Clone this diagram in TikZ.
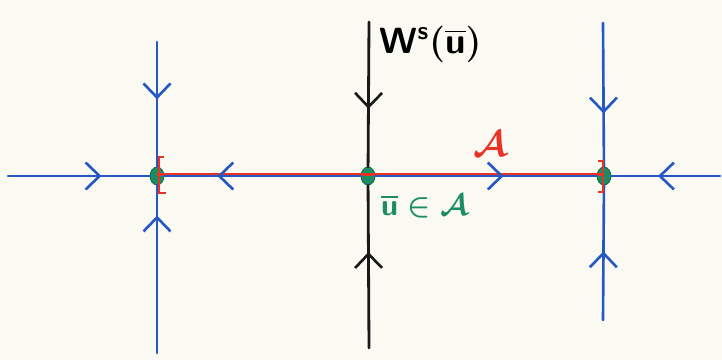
\documentclass[tikz,border=0pt]{standalone}
\usepackage{amsmath}
\usepackage{amssymb}
\usepackage{bm}
\usetikzlibrary{arrows.meta,decorations.markings,shapes.geometric}

\definecolor{penblue}{RGB}{38,88,196}
\definecolor{penred}{RGB}{232,52,38}
\definecolor{pengreen}{RGB}{28,140,100}
\definecolor{paper}{RGB}{251,250,242}

\tikzset{
  flow/.style={penblue,line width=1.5pt,line cap=round},
  stable/.style={black!90,line width=1.6pt,line cap=round},
  flowto/.style={postaction={decorate,decoration={markings,
      mark=at position #1 with {\arrow{Straight Barb[length=2.8mm,width=5.4mm,line width=1.5pt]}}}}},
  eq/.style={draw=pengreen!70!black,fill=pengreen,ellipse,inner sep=0pt,
      minimum width=0.28cm,minimum height=0.36cm},
}

\begin{document}
\begin{tikzpicture}[x=0.02cm,y=-0.02cm]
        \fill[paper] (0,0) rectangle (722,360);
        \useasboundingbox (0,0) rectangle (722,360);

        % equilibria
        \node[eq] (uL) at (157,176) {};
        \node[eq] (ubar) at (368,176) {};
        \node[eq] (uR) at (604,176) {};

        % free ends
        \coordinate (hL) at (8,176);
        \coordinate (hR) at (720,176);
        \coordinate (Ltop) at (157,42);
        \coordinate (Lbot) at (157,353);
        \coordinate (Btop) at (369,22);
        \coordinate (Bbot) at (369,348);
        \coordinate (Rtop) at (603,23);
        \coordinate (Rbot) at (603,320);

        % attractor
        \draw[penred,line width=1.5pt] ([yshift=1pt]uL.center) to ([yshift=1pt]uR.center);

        % horizontal flow
        \draw[flow,flowto=0.66] (hL) to (uL);
        \draw[flow,flowto=0.73] (ubar) to (uL);
        \draw[flow,flowto=0.58] (ubar) to (uR);
        \draw[flow,flowto=0.57] (hR) to (uR);

        % vertical flow
        \draw[flow,flowto=0.46] (Ltop) to (uL);
        \draw[flow,flowto=0.82] (Lbot) to (uL);
        \draw[stable,flowto=0.60] (Btop) to (ubar);
        \draw[stable,flowto=0.59] (Bbot) to (ubar);
        \draw[flow,flowto=0.63] (Rtop) to (uR);
        \draw[flow,flowto=0.51] (Rbot) to (uR);

        % end brackets
        \draw[penred,line width=1.6pt] (164,157) -- (159,157) -- (159,193) -- (166,193);
        \draw[penred,line width=1.6pt] (598,161) -- (603,161) -- (603,192) -- (598,192);

        % labels
        \node[anchor=west,font=\huge\boldmath] (Ws) at (373,44) {$\mathsf{W}^{\mathsf{s}}(\overline{\mathsf{u}})$};
        \node[penred,font=\huge\boldmath] (Alab) at (490,144) {$\mathcal{A}$};
        \node[pengreen,anchor=west,font=\LARGE\boldmath] (ulab) at (375,206) {$\overline{\mathsf{u}}\in\mathcal{A}$};
\end{tikzpicture}
\end{document}
